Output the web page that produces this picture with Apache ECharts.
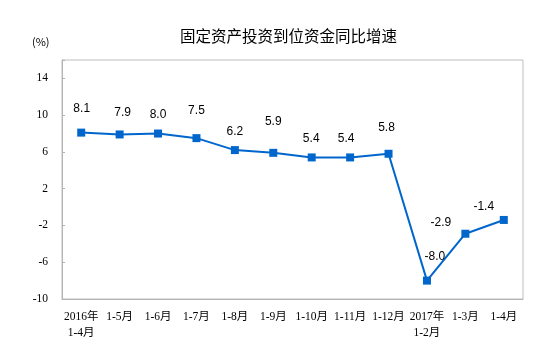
<!DOCTYPE html>
<html>
<head>
<meta charset="utf-8">
<script src="https://cdn.jsdelivr.net/npm/echarts@6/dist/echarts.min.js"></script>
<style>html,body{margin:0;padding:0;background:#fff;}#c{width:553px;height:362px;}</style>
</head>
<body>
<div id="c"></div>
<script>
var categories = ['2016年\n1-4月','1-5月','1-6月','1-7月','1-8月','1-9月','1-10月','1-11月','1-12月','2017年\n1-2月','1-3月','1-4月'];
var values = [8.1, 7.9, 8.0, 7.5, 6.2, 5.9, 5.4, 5.4, 5.8, -8.0, -2.9, -1.4];
var labelTexts = ['8.1','7.9','8.0','7.5','6.2','5.9','5.4','5.4','5.8','-8.0','-2.9','-1.4'];
var yTicks = [-10, -6, -2, 2, 6, 10, 14];
var labelOffsets = [[0.5,-24],[3,-22],[0,-19],[0,-27],[0,-18],[0,-31],[-0.5,-18.5],[-4,-18.5],[-2,-26],[8,-24],[-24.5,-11.5],[-20,-13]];

var chart = echarts.init(document.getElementById('c'), null, {renderer:'canvas'});
var seriesData = values.map(function(v, i){
  return {value: v, label: {offset: labelOffsets[i], formatter: labelTexts[i]}};
});
chart.setOption({
  animation: false,
  backgroundColor: '#fff',
  title: [{
    text: '固定资产投资到位资金同比增速',
    left: 175, top: 23,
    textStyle: {fontSize: 15.5, fontWeight: 'normal', color: '#000', fontFamily: '"Noto Sans CJK SC", sans-serif'}
  },{
    text: '(%)',
    left: 27, top: 31,
    textStyle: {fontSize: 11, fontWeight: 'normal', color: '#000', fontFamily: '"Noto Sans CJK SC", sans-serif'}
  }],
  grid: {left: 62, right: 30, top: 60, bottom: 63, show: true, borderColor: '#bfbfbf', borderWidth: 1},
  xAxis: {
    type: 'category',
    data: categories,
    boundaryGap: true,
    axisLine: {onZero: false, lineStyle: {color: '#b3b3b3', width: 1}},
    axisTick: {inside: true, length: 4, lineStyle: {color: '#b3b3b3'}},
    axisLabel: {color: '#000', fontSize: 11.5, fontFamily: '"Liberation Serif", "Noto Sans CJK SC", serif', margin: 10, lineHeight: 16, interval: 0}
  },
  yAxis: {
    type: 'value',
    min: -10, max: 16, interval: 4,
    splitLine: {show: false},
    axisLine: {show: true, lineStyle: {color: '#b3b3b3', width: 1}},
    axisTick: {show: true, inside: true, length: 3, lineStyle: {color: '#b3b3b3'}},
    axisLabel: {
      color: '#000', fontSize: 11.5, fontFamily: '"Liberation Serif", serif', margin: 14,
      formatter: function(v){ return yTicks.indexOf(v) >= 0 ? String(v) : ''; }
    }
  },
  series: [{
    type: 'line',
    data: seriesData,
    symbol: 'rect',
    symbolSize: 8,
    lineStyle: {color: '#0066cc', width: 2},
    itemStyle: {color: '#0066cc'},
    label: {show: true, position: 'inside', color: '#000', fontSize: 12, fontFamily: '"Liberation Sans", Arial, sans-serif'}
  }]
});
</script>
</body>
</html>
